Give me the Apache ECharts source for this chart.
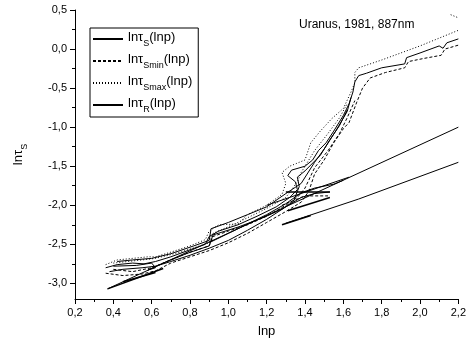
<!DOCTYPE html>
<html>
<head>
<meta charset="utf-8">
<script src="https://cdn.jsdelivr.net/npm/echarts@6/dist/echarts.min.js"></script>
<style>
  html, body { margin: 0; padding: 0; background: #fff; }
  #chart { width: 469px; height: 347px; }
</style>
</head>
<body>
<div id="chart"></div>
<script>
// ticks
const xTicks = [0.2, 0.4, 0.6, 0.8, 1.0, 1.2, 1.4, 1.6, 1.8, 2.0, 2.2];
const xMinor = [0.3, 0.5, 0.7, 0.9, 1.1, 1.3, 1.5, 1.7, 1.9, 2.1];
const yTicks = [-3.0, -2.5, -2.0, -1.5, -1.0, -0.5, 0.0, 0.5];
const yMinor = [-2.75, -2.25, -1.75, -1.25, -0.75, -0.25, 0.25];

// lnτS(lnp) - solid runs
const tauS1 = [[0.36,-2.80],[0.42,-2.76],[0.50,-2.74],[0.56,-2.75],[0.62,-2.72],[0.70,-2.66],[0.80,-2.57],[0.88,-2.50],[0.90,-2.40],[0.95,-2.33],[1.05,-2.25],[1.15,-2.14],[1.25,-2.02],[1.32,-1.90],[1.36,-1.80],[1.35,-1.70],[1.31,-1.62],[1.33,-1.55],[1.40,-1.50],[1.44,-1.42],[1.47,-1.30],[1.51,-1.20],[1.55,-1.05],[1.60,-0.85],[1.63,-0.70],[1.65,-0.55],[1.66,-0.42],[1.68,-0.34],[1.72,-0.31],[1.80,-0.24],[1.92,-0.19],[1.93,-0.11],[2.00,-0.05],[2.10,0.04],[2.12,0.01],[2.14,0.08],[2.20,0.13]];
const tauS2 = [[0.38,-2.85],[0.45,-2.82],[0.55,-2.80],[0.62,-2.78],[0.70,-2.72],[0.80,-2.64],[0.90,-2.55],[1.00,-2.45],[1.10,-2.32],[1.20,-2.18],[1.30,-2.02],[1.38,-1.90],[1.45,-1.85],[1.53,-1.83]];
const tauS3 = [[0.90,-2.48],[1.00,-2.36],[1.10,-2.24],[1.20,-2.12],[1.30,-1.98],[1.38,-1.84],[1.45,-1.78],[1.55,-1.73],[1.60,-1.68]];
const tauS4 = [[0.42,-2.72],[0.50,-2.70],[0.60,-2.68],[0.70,-2.62],[0.82,-2.52],[0.90,-2.45],[0.91,-2.30],[1.00,-2.22],[1.10,-2.12],[1.20,-2.02],[1.30,-1.85],[1.38,-1.72],[1.45,-1.45],[1.50,-1.28],[1.56,-1.05],[1.62,-0.80],[1.64,-0.62]];
const tauS5 = [[0.40,-2.78],[0.52,-2.77],[0.60,-2.74],[0.62,-2.80],[0.58,-2.83],[0.66,-2.74],[0.78,-2.62],[0.90,-2.52],[0.92,-2.38],[1.05,-2.28],[1.18,-2.16],[1.28,-2.05],[1.34,-1.95],[1.37,-1.76],[1.36,-1.64],[1.40,-1.56],[1.48,-1.36],[1.53,-1.16],[1.58,-0.98],[1.62,-0.78]];

// lnτSmin(lnp) - dashed
const tauMin1 = [[0.36,-2.87],[0.45,-2.90],[0.55,-2.88],[0.62,-2.84],[0.70,-2.74],[0.80,-2.66],[0.90,-2.58],[1.00,-2.48],[1.10,-2.36],[1.20,-2.22],[1.30,-2.08],[1.38,-1.96],[1.42,-1.82],[1.45,-1.60],[1.50,-1.42],[1.55,-1.20],[1.60,-1.02],[1.63,-0.94],[1.67,-0.68],[1.70,-0.50],[1.74,-0.37],[1.82,-0.30],[1.92,-0.24],[1.94,-0.16],[2.02,-0.12],[2.11,-0.08],[2.13,0.00],[2.20,0.05]];
const tauMin2 = [[0.40,-2.82],[0.50,-2.85],[0.60,-2.80],[0.70,-2.70],[0.80,-2.60],[0.90,-2.52],[0.92,-2.40],[1.00,-2.33],[1.10,-2.25],[1.20,-2.14],[1.30,-2.00],[1.36,-1.90],[1.40,-1.78],[1.45,-1.52],[1.52,-1.30],[1.58,-1.08],[1.62,-0.88],[1.66,-0.66]];
const tauMin3 = [[1.28,-2.00],[1.40,-1.88],[1.52,-1.88]];

// lnτSmax(lnp) - dotted
const tauMax1 = [[0.36,-2.76],[0.42,-2.70],[0.50,-2.68],[0.58,-2.66],[0.62,-2.66],[0.70,-2.60],[0.80,-2.52],[0.88,-2.44],[0.90,-2.33],[0.95,-2.25],[1.05,-2.24],[1.10,-2.12],[1.20,-2.00],[1.28,-1.86],[1.30,-1.72],[1.28,-1.58],[1.32,-1.50],[1.40,-1.42],[1.43,-1.20],[1.48,-1.05],[1.54,-0.89],[1.60,-0.76],[1.64,-0.55],[1.66,-0.43],[1.66,-0.30],[1.68,-0.24],[1.80,-0.14],[1.90,-0.05],[2.00,0.04],[2.10,0.14],[2.20,0.24]];
const tauMax2 = [[0.40,-2.74],[0.55,-2.70],[0.62,-2.68],[0.75,-2.60],[0.90,-2.48],[0.92,-2.36],[1.05,-2.22],[1.20,-2.04],[1.30,-1.90],[1.36,-1.70],[1.38,-1.58],[1.45,-1.30],[1.52,-1.08],[1.58,-0.88],[1.62,-0.70]];
const tauMax3 = [[2.16,0.44],[2.20,0.40]];

// lnτR(lnp) - straight solid
const tauR1 = [[0.37,-3.07],[2.20,-1.00]];
const tauR2 = [[1.30,-2.23],[1.68,-1.92],[2.20,-1.45]];
const tauR3 = [[0.37,-3.07],[0.66,-2.81]];
const tauR4 = [[0.45,-2.98],[0.62,-2.86]];
const tauR5 = [[1.28,-2.25],[1.43,-2.13]];
const tauR6 = [[1.30,-1.83],[1.53,-1.83]];
const tauR7 = [[1.31,-2.07],[1.53,-1.90]];
const tauR8 = [[1.20,-2.00],[1.63,-1.64]];

const fmt = v => v.toFixed(1).replace('.', ',');
const legendNames = {
  S: '{m|lnτ}{s|S}{m|(lnp)}',
  Smin: '{m|lnτ}{s|Smin}{m|(lnp)}',
  Smax: '{m|lnτ}{s|Smax}{m|(lnp)}',
  R: '{m|lnτ}{s|R}{m|(lnp)}'
};

const chart = echarts.init(document.getElementById('chart'));

function line(name, data, type, width) {
  return {
    name: name,
    type: 'line',
    data: data,
    symbol: 'none',
    animation: false,
    itemStyle: { color: 'rgba(0,0,0,0)' },
    lineStyle: { color: '#000', width: width || 1, type: type || 'solid' }
  };
}

const richText = {
  m: { fontSize: 13, lineHeight: 16, verticalAlign: 'top', color: '#000', fontFamily: 'Liberation Sans' },
  s: { fontSize: 9, lineHeight: 10, verticalAlign: 'top', padding: [8, 0, 0, 0], color: '#000', fontFamily: 'Liberation Sans' }
};

chart.setOption({
  backgroundColor: '#fff',
  textStyle: { fontFamily: 'Liberation Sans' },
  title: {
    text: 'Uranus, 1981, 887nm',
    left: 294, top: 14,
    textStyle: { fontSize: 12, fontWeight: 'normal', color: '#000' }
  },
  legend: {
    orient: 'vertical',
    left: 90, top: 28,
    data: ['S', 'Smin', 'Smax', 'R'],
    itemWidth: 30, itemHeight: 10, itemGap: 5,
    padding: [3, 6, 3, 2],
    borderColor: '#000', borderWidth: 1,
    formatter: name => legendNames[name],
    textStyle: { rich: richText }
  },
  grid: { left: 75, right: 9, top: 10, bottom: 48 },
  xAxis: [{
    type: 'value', min: 0.2, max: 2.2,
    name: 'lnp', nameLocation: 'middle', nameGap: 26,
    nameTextStyle: { fontSize: 13, color: '#000' },
    axisLine: { onZero: false, lineStyle: { color: '#000' } },
    axisTick: { length: 5, customValues: xTicks, lineStyle: { color: '#000' } },
    axisLabel: { customValues: xTicks, formatter: fmt, fontSize: 11, color: '#000', margin: 8 },
    splitLine: { show: false }
  }, {
    type: 'value', min: 0.2, max: 2.2, position: 'bottom',
    axisLine: { show: false, onZero: false },
    axisTick: { length: 3, customValues: xMinor, lineStyle: { color: '#000' } },
    axisLabel: { show: false },
    splitLine: { show: false }
  }],
  yAxis: [{
    type: 'value', min: -3.2, max: 0.5,
    name: '{m|lnτ}{s|S}', nameLocation: 'middle', nameGap: 47,
    nameTextStyle: { rich: richText },
    axisLine: { onZero: false, lineStyle: { color: '#000' } },
    axisTick: { length: 5, customValues: yTicks, lineStyle: { color: '#000' } },
    axisLabel: { customValues: yTicks, formatter: fmt, fontSize: 11, color: '#000', margin: 8 },
    splitLine: { show: false }
  }, {
    type: 'value', min: -3.2, max: 0.5, position: 'left',
    axisLine: { show: false, onZero: false },
    axisTick: { length: 3, customValues: yMinor, lineStyle: { color: '#000' } },
    axisLabel: { show: false },
    splitLine: { show: false }
  }],
  series: [
    line('S', tauS1),
    line('Smin', tauMin1, [3, 2]),
    line('Smax', tauMax1, [1, 2]),
    line('R', tauR1),
    line('S', tauS2),
    line('S', tauS3),
    line('S', tauS4),
    line('S', tauS5),
    line('Smin', tauMin2, [3, 2]),
    line('Smin', tauMin3, [3, 2]),
    line('Smax', tauMax2, [1, 2]),
    line('Smax', tauMax3, [1, 2]),
    line('R', tauR2),
    line('R', tauR3, 'solid', 1.5),
    line('R', tauR4, 'solid', 1.5),
    line('R', tauR5, 'solid', 1.5),
    line('R', tauR6, 'solid', 1.5),
    line('R', tauR7, 'solid', 1.5),
    line('R', tauR8)
  ]
});
</script>
</body>
</html>
